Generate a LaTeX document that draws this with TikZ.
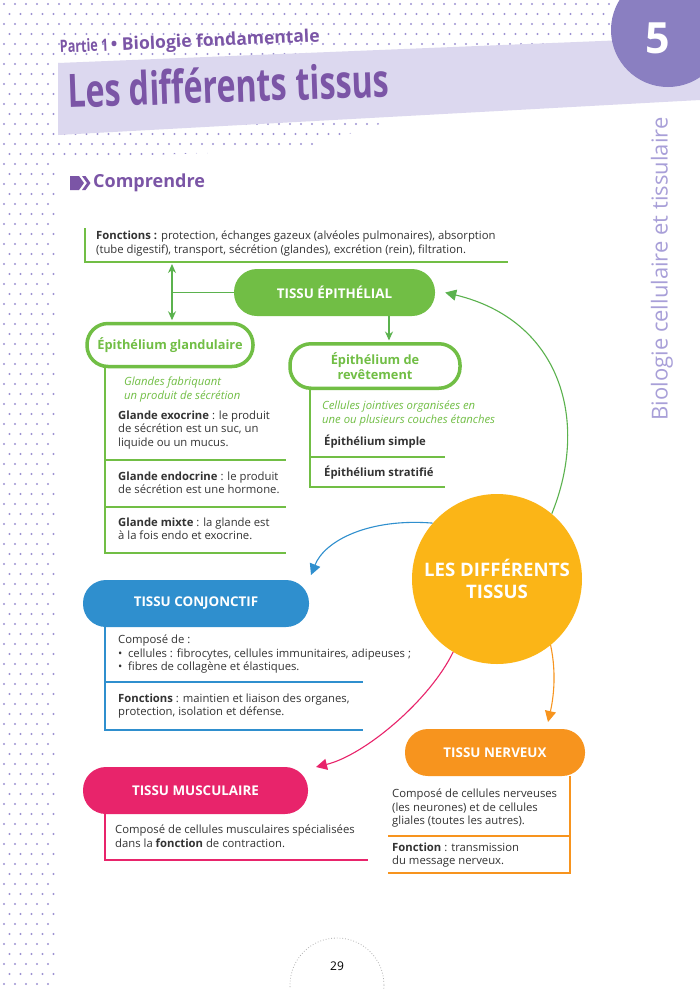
\documentclass[tikz,border=0pt]{standalone}
\usepackage{fontspec}
\setmainfont{Open Sans}
\usetikzlibrary{shapes.geometric,arrows.meta}

\definecolor{violet}{HTML}{7B55A6}
\definecolor{violetpoint}{HTML}{9D92D2}
\definecolor{bande}{HTML}{DCD8EF}
\definecolor{violetrond}{HTML}{8A7FC1}
\definecolor{violetclair}{HTML}{A89FD8}
\definecolor{vert}{HTML}{71BE45}
\definecolor{vertfleche}{HTML}{5BB24E}
\definecolor{bleu}{HTML}{2F8FCE}
\definecolor{rose}{HTML}{E8246B}
\definecolor{orange}{HTML}{F7941E}
\definecolor{jaune}{HTML}{FBB517}
\definecolor{gristxt}{HTML}{333333}

\tikzset{
  tissu/.style={fill=#1, rounded corners=23pt, minimum height=47pt, inner sep=0pt,
    text=white, font=\fontsize{13.4}{15}\selectfont\bfseries},
  epibox/.style={draw=vert, line width=3.5pt, fill=white, rounded corners=21pt,
    minimum height=43pt, inner sep=0pt, align=center, text=vert,
    font=\fontsize{12.8}{15}\selectfont\bfseries},
  txt/.style={anchor=north west, align=left, inner sep=0pt, text=gristxt,
    font=\fontsize{11.3}{13.7}\selectfont, execute at begin node=\strut},
  itx/.style={txt, text=vert, font=\fontsize{11.3}{13.7}\selectfont\itshape},
  trait/.style={line width=1.3pt},
  fleche/.style={line width=1.1pt, -{Triangle[length=11pt,width=11pt]}},
  vfleche/.style={vertfleche, line width=1.3pt},
}

\begin{document}
\begin{tikzpicture}[x=1pt,y=-1pt]
  \useasboundingbox (0,0) rectangle (700,989);
  \fill[white] (0,0) rectangle (700,989);

  % trame de points
  \foreach \j in {0,...,98}
    \foreach \i in {0,...,4}
      \fill[violetpoint] ({4+11*\i+5.5*mod(\j,2)},{4+10*\j}) circle (1.1);
  \begin{scope}
    \clip (58,0) -- (612,0) -- (612,48) -- (300,150) -- (58,158) -- cycle;
    \foreach \j in {0,...,15}
      \foreach \i in {5,...,55}
        \fill[violetpoint] ({4+11*\i+5.5*mod(\j,2)},{4+10*\j}) circle (1.1);
  \end{scope}

  % en-tete
  \fill[bande] (58,63) -- (700,37) -- (700,100) -- (58,135) -- cycle;
  \fill[violetrond] (668,30) circle (57);
  \node[text=white, font=\fontsize{43}{43}\selectfont\bfseries] (chap) at (658,38) {5};
  \node[anchor=base west, rotate=2.5, text=violet, inner sep=0pt] (partie) at (60,53)
    {\scalebox{0.74}[1]{\fontsize{17}{19}\selectfont\bfseries Partie 1}
     \fontsize{17.5}{19}\selectfont\bfseries • Biologie fondamentale};
  \node[anchor=base west, rotate=2, text=violet, inner sep=0pt] (titre) at (68,108)
    {\scalebox{0.7}[1]{\fontsize{46}{48}\selectfont\bfseries Les différents tissus}};
  \node[rotate=90, text=violetclair, font=\fontsize{22}{24}\selectfont] (matiere) at (662,269)
    {Biologie cellulaire et tissulaire};

  \fill[violet] (70,176) -- (79,176) -- (84,183) -- (79,190) -- (70,190) -- cycle;
  \fill[violet] (82,176) -- (85.5,176) -- (90.5,183) -- (85.5,190) -- (82,190) -- (87,183) -- cycle;
  \node[anchor=west, text=violet, font=\fontsize{18}{20}\selectfont\bfseries, inner sep=0pt]
    (comp) at (93,183) {Comprendre};

  % tissu epithelial
  \draw[trait, vert] (85,228) -- (85,262) -- (508,262);
  \node[txt] (fonct) at (96,230.5) {\textbf{Fonctions :} protection, échanges gazeux (alvéoles pulmonaires), absorption\\(tube digestif), transport, sécrétion (glandes), excrétion (rein), filtration.};

  \node[tissu=vert, minimum width=201pt] (epi) at (334.5,292.5) {TISSU ÉPITHÉLIAL};
  \node[epibox, minimum width=166pt] (glan) at (170,345) {Épithélium glandulaire};
  \node[epibox, minimum width=170pt, minimum height=44.5pt] (rev) at (375,366) {Épithélium de\\revêtement};

  \coordinate (fhaut) at (172,264);
  \coordinate (fbas) at (389,0);
  \draw[vfleche, {Stealth[length=9pt,width=8pt]}-{Stealth[length=9pt,width=8pt]}, shorten >=1.5pt]
    (fhaut) -- (fhaut |- glan.north);
  \draw[vfleche] (epi.west) -- (epi.west -| fhaut);
  \draw[vfleche, -{Stealth[length=9pt,width=8pt]}, shorten >=1.5pt] (epi.south -| fbas) -- (rev.north -| fbas);

  \draw[trait, vert] (105,368) -- (105,553) -- (286,553);
  \draw[trait, vert] (105,460) -- (286,460) (105,507) -- (286,507);
  \node[itx] (gdesc) at (124,376.5) {Glandes fabriquant\\un produit de sécrétion};
  \node[txt] (exo) at (118,410.5) {\textbf{Glande exocrine} : le produit\\de sécrétion est un suc, un\\liquide ou un mucus.};
  \node[txt] (endo) at (118,471.5) {\textbf{Glande endocrine} : le produit\\de sécrétion est une hormone.};
  \node[txt] (mixte) at (118,517.5) {\textbf{Glande mixte} : la glande est\\à la fois endo et exocrine.};

  \draw[trait, vert] (310,390) -- (310,487) -- (445,487);
  \draw[trait, vert] (310,457) -- (445,457);
  \node[itx] (rdesc) at (322,400.5) {Cellules jointives organisées en\\une ou plusieurs couches étanches};
  \node[txt] (simple) at (324,434.5) {\textbf{Épithélium simple}};
  \node[txt] (strat) at (324,465.5) {\textbf{Épithélium stratifié}};

  % centre
  \node[circle, fill=jaune, minimum size=170pt, inner sep=0pt,
    align=center, text=white, font=\fontsize{18.6}{22}\selectfont\bfseries]
    (centre) at (497,579) {LES DIFFÉRENTS\\TISSUS};

  % tissu conjonctif
  \node[tissu=bleu, minimum width=226pt] (conj) at (196,603.5) {TISSU CONJONCTIF};
  \draw[trait, bleu] (105,627) -- (105,730) -- (363,730);
  \draw[trait, bleu] (105,682) -- (363,682);
  \node[txt] (cdesc) at (118,634.5) {Composé de :\\•\enspace cellules : fibrocytes, cellules immunitaires, adipeuses ;\\•\enspace fibres de collagène et élastiques.};
  \node[txt] (cfonc) at (118,693.5) {\textbf{Fonctions} : maintien et liaison des organes,\\protection, isolation et défense.};

  % tissu musculaire
  \node[tissu=rose, minimum width=225pt] (musc) at (195.5,790.5) {TISSU MUSCULAIRE};
  \draw[trait, rose] (105,814) -- (105,860) -- (368,860);
  \node[txt] (mdesc) at (115,824.5) {Composé de cellules musculaires spécialisées\\dans la \textbf{fonction} de contraction.};

  % tissu nerveux
  \node[tissu=orange, minimum width=180pt] (nerv) at (495,752.5) {TISSU NERVEUX};
  \draw[trait, orange] (570,776) -- (570,873) -- (388,873);
  \draw[trait, orange] (388,836) -- (570,836);
  \node[txt] (ndesc) at (392,788.5) {Composé de cellules nerveuses\\(les neurones) et de cellules\\gliales (toutes les autres).};
  \node[txt] (nfonc) at (392,842.5) {\textbf{Fonction} : transmission\\du message nerveux.};

  % fleches
  \coordinate (pointe conj) at (311,575);
  \coordinate (pointe musc) at (316,767);
  \coordinate (pointe nerv) at (548,722);
  \draw[fleche, vertfleche] (centre.50) .. controls (590,420) and (560,320) .. ([xshift=10pt]epi.east);
  \draw[fleche, bleu] (centre.139) .. controls (370,518) and (325,540) .. (pointe conj);
  \draw[fleche, rose] (centre.239) .. controls (430,700) and (365,755) .. (pointe musc);
  \draw[fleche, orange] (centre.-51) .. controls (557,675) and (553,700) .. (pointe nerv);

  % page
  \draw[gray!60, dotted, line width=0.8pt] (337,985) circle (47);
  \node[text=black, font=\fontsize{12}{14}\selectfont] (page) at (337,966) {29};
\end{tikzpicture}
\end{document}
